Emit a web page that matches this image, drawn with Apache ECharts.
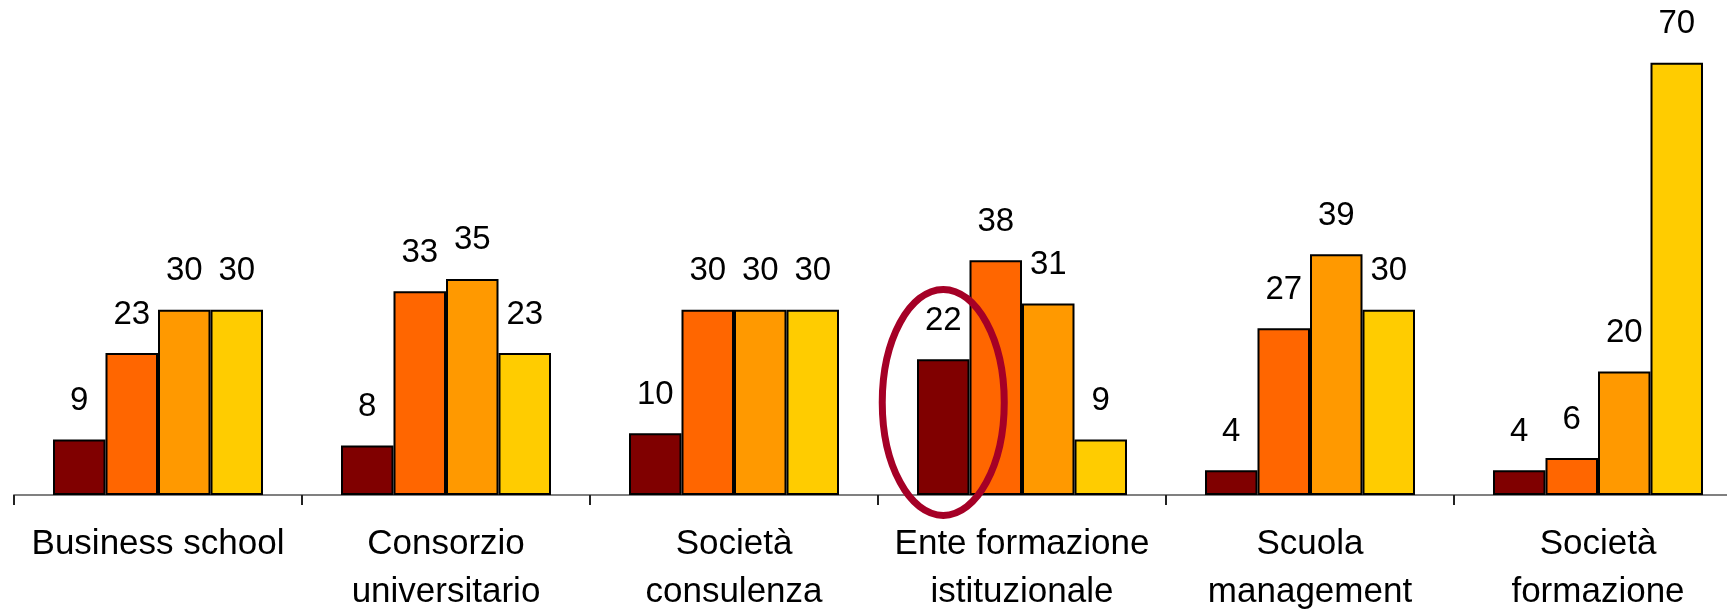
<!DOCTYPE html>
<html>
<head>
<meta charset="utf-8">
<script src="https://cdn.jsdelivr.net/npm/echarts@6/dist/echarts.min.js"></script>
<style>
  html, body { margin: 0; padding: 0; background: #fff; }
  #chart { width: 1727px; height: 611px; }
</style>
</head>
<body>
<div id="chart"></div>
<script>
const categories = [
  'Business school',
  'Consorzio\nuniversitario',
  'Società\nconsulenza',
  'Ente formazione\nistituzionale',
  'Scuola\nmanagement',
  'Società\nformazione'
];
const serie1 = [9, 8, 10, 22, 4, 4];
const serie2 = [23, 33, 30, 38, 27, 6];
const serie3 = [30, 35, 30, 31, 39, 20];
const serie4 = [30, 23, 30, 9, 30, 70];
const seriesColors = ['#800000', '#FF6600', '#FF9900', '#FFCC00'];
const highlightIndex = 3; // Ente formazione istituzionale, first bar

const font = '"Liberation Sans", Arial, sans-serif';
const barW = 52.5;

const chartDom = document.getElementById('chart');
const myChart = echarts.init(chartDom);

const makeSeries = (data, i) => ({
  type: 'bar',
  data: data,
  barWidth: barW,
  barGap: '0%',
  itemStyle: {
    color: seriesColors[i],
    borderColor: '#000',
    borderWidth: 2
  },
  label: {
    show: true,
    position: 'top',
    distance: 22,
    color: '#000',
    fontSize: 33,
    fontFamily: font
  },
  animation: false
});

const option = {
  backgroundColor: '#fff',
  animation: false,
  grid: {
    left: 14,
    top: 1,
    width: 1728,
    height: 494,
    outerBoundsMode: 'none',
    containLabel: false
  },
  xAxis: {
    type: 'category',
    data: categories,
    axisLine: { lineStyle: { color: '#808080', width: 2 } },
    axisTick: { show: true, length: 10, lineStyle: { color: '#222', width: 2 } },
    axisLabel: {
      interval: 0,
      margin: 25,
      color: '#000',
      fontSize: 35,
      lineHeight: 48,
      fontFamily: font
    }
  },
  yAxis: {
    type: 'value',
    min: 0,
    max: 80,
    show: false,
    splitLine: { show: false }
  },
  series: [serie1, serie2, serie3, serie4].map(makeSeries)
};
myChart.setOption(option);

// red ellipse around the highlighted bar
const center = myChart.convertToPixel({ seriesIndex: 0 }, [highlightIndex, 15]);
myChart.setOption({
  graphic: [{
    type: 'ellipse',
    shape: { cx: center[0] - 1.5 * barW, cy: center[1], rx: 61, ry: 113 },
    style: { fill: 'none', stroke: '#A50026', lineWidth: 7 },
    z: 100
  }]
});
</script>
</body>
</html>
